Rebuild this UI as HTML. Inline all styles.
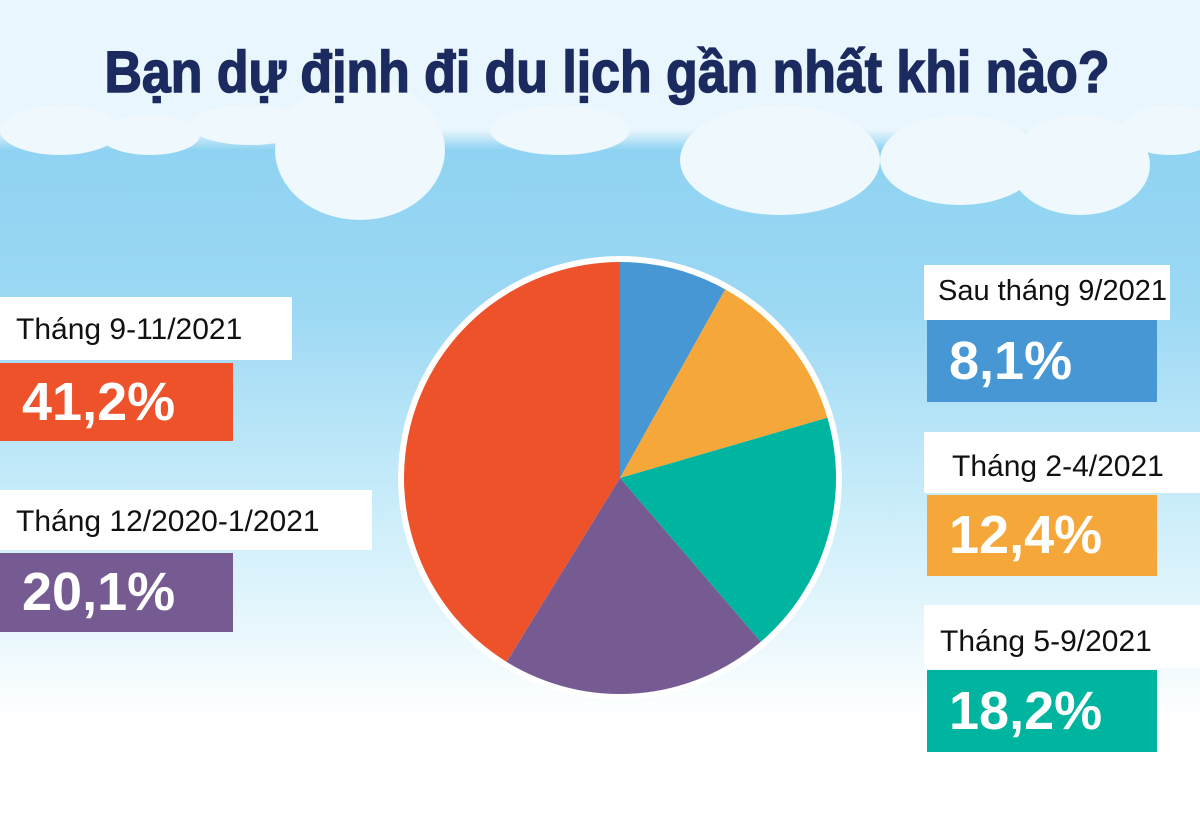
<!DOCTYPE html>
<html><head><meta charset="utf-8">
<style>
body{margin:0;width:1200px;height:827px;overflow:hidden;font-family:"Liberation Sans",sans-serif;}
#bg{position:absolute;left:0;top:0;width:1200px;height:827px;background:linear-gradient(#e9f6fd 0px,#e9f6fd 130px,#8fd3f2 150px,#9bd8f4 300px,#cdeefa 520px,#ffffff 720px,#ffffff 827px);}
.lab{position:absolute;background:#fff;color:#111;font-size:30px;line-height:1;box-sizing:border-box;padding-left:16px;white-space:nowrap;}
.val{position:absolute;color:#fff;font-size:54px;font-weight:bold;box-sizing:border-box;padding-left:22px;}
</style></head><body>
<div id="bg"></div>
<svg width="1200" height="827" style="position:absolute;left:0;top:0">
<g fill="#eef8fd">
<ellipse cx="60" cy="130" rx="60" ry="25"/><ellipse cx="150" cy="135" rx="50" ry="20"/>
<ellipse cx="360" cy="150" rx="85" ry="70"/><ellipse cx="250" cy="125" rx="60" ry="20"/>
<ellipse cx="560" cy="130" rx="70" ry="25"/><ellipse cx="780" cy="160" rx="100" ry="55"/>
<ellipse cx="960" cy="160" rx="80" ry="45"/><ellipse cx="1080" cy="165" rx="70" ry="50"/>
<ellipse cx="1170" cy="130" rx="50" ry="25"/>
</g>
<text x="607" y="92" text-anchor="middle" font-family="Liberation Sans Narrow, Liberation Sans, sans-serif" font-weight="bold" font-size="58" fill="#1b2b5f" stroke="#1b2b5f" stroke-width="1.5" textLength="1005" lengthAdjust="spacingAndGlyphs">Bạn dự định đi du lịch gần nhất khi nào?</text>
<g id="pie"></g>
</svg>

<div class="lab" style="left:0;top:297px;width:292px;height:63px;padding-top:18px">Tháng 9-11/2021</div>
<div class="val" style="left:0;top:363px;width:233px;height:78px;background:#ee522b;line-height:78px">41,2%</div>
<div class="lab" style="left:0;top:490px;width:372px;height:60px;padding-top:17px">Tháng 12/2020-1/2021</div>
<div class="val" style="left:0;top:553px;width:233px;height:79px;background:#755b92;line-height:79px">20,1%</div>

<div class="lab" style="left:924px;top:265px;width:246px;height:55px;padding-top:12px;padding-left:14px;font-size:29px">Sau tháng 9/2021</div>
<div class="val" style="left:927px;top:320px;width:230px;height:82px;background:#4697d3;line-height:82px">8,1%</div>
<div class="lab" style="left:924px;top:432px;width:276px;height:61px;padding-top:20px;padding-left:28px">Tháng 2-4/2021</div>
<div class="val" style="left:927px;top:495px;width:230px;height:81px;background:#f6a73a;line-height:81px">12,4%</div>
<div class="lab" style="left:924px;top:605px;width:276px;height:63px;padding-top:22px;padding-left:16px">Tháng 5-9/2021</div>
<div class="val" style="left:927px;top:670px;width:230px;height:82px;background:#00b5a0;line-height:82px">18,2%</div>

<script>
const categories=["Sau tháng 9/2021","Tháng 2-4/2021","Tháng 5-9/2021","Tháng 12/2020-1/2021","Tháng 9-11/2021"];
const values=[8.1,12.4,18.2,20.1,41.2];
const colors=["#4697d3","#f6a73a","#00b5a0","#755b92","#ee522b"];
const cx=620,cy=478,r=216;
const g=document.getElementById('pie');
const ns="http://www.w3.org/2000/svg";
const bgc=document.createElementNS(ns,'circle');
bgc.setAttribute('cx',cx);bgc.setAttribute('cy',cy);bgc.setAttribute('r',r+6);bgc.setAttribute('fill','#fff');


g.appendChild(bgc);
const total=values.reduce((a,b)=>a+b,0);
let acc=0;
function pt(f){const a=f*2*Math.PI-Math.PI/2;return [cx+r*Math.cos(a),cy+r*Math.sin(a)];}
values.forEach((v,i)=>{
  const s=pt(acc/total);acc+=v;const e=pt(acc/total);
  const large=v/total>0.5?1:0;
  const p=document.createElementNS(ns,'path');
  p.setAttribute('d',`M${cx},${cy}L${s[0]},${s[1]}A${r},${r} 0 ${large} 1 ${e[0]},${e[1]}Z`);
  p.setAttribute('fill',colors[i]);
  
  
  g.appendChild(p);
});
</script>
</body></html>
